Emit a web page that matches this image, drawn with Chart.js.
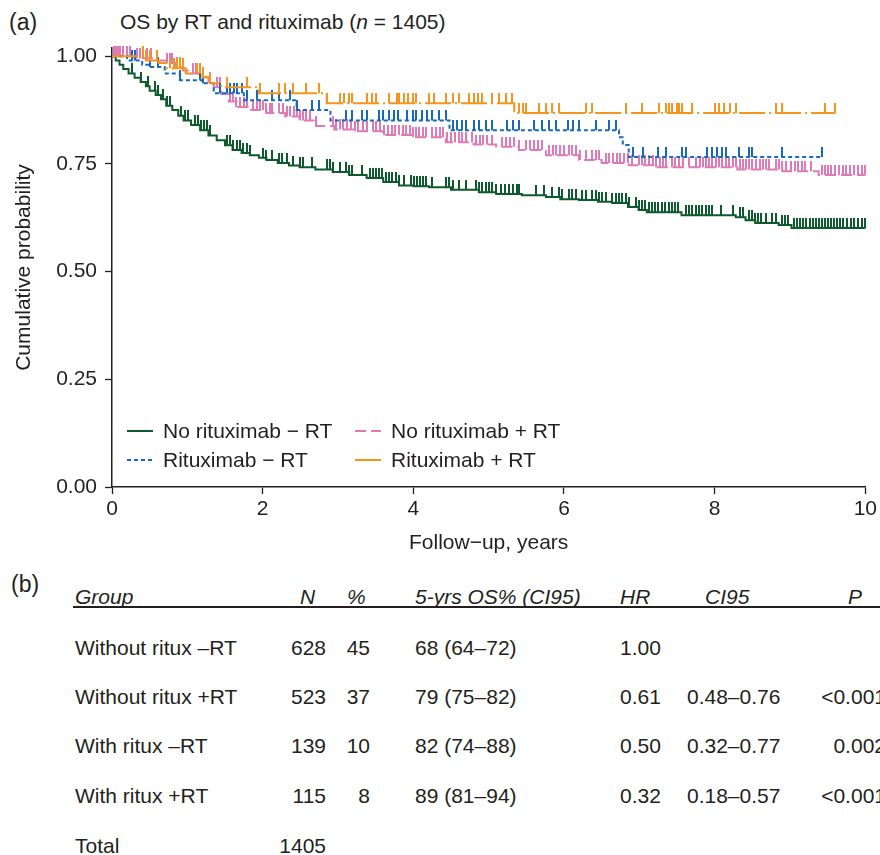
<!DOCTYPE html>
<html>
<head>
<meta charset="utf-8">
<script src="https://cdn.jsdelivr.net/npm/chart.js@4.4.1/dist/chart.umd.min.js"></script>
<style>
  body { margin: 0; width: 880px; height: 855px; overflow: hidden; background: #fff; position: relative;
         font-family: "Liberation Sans", Arial, sans-serif; color: #231f20; }
  #plot { position: absolute; left: 0; top: 0; width: 880px; height: 560px; }
  .txt { position: absolute; white-space: nowrap; font-size: 21px; line-height: 24px; }
  .head { font-style: italic; }
  #rule { position: absolute; left: 73px; top: 606px; width: 820px; height: 2px; background: #231f20; }
</style>
</head>
<body>
<div class="txt" style="left:9px; top:9px; font-size:23px; line-height:26px;">(a)</div>
<div class="txt" style="left:120px; top:10px;">OS by RT and rituximab (<i>n</i> = 1405)</div>
<div id="plot"><canvas id="km" width="880" height="560"></canvas></div>
<div class="txt" style="left:11px; top:571px; font-size:23px; line-height:26px;">(b)</div>
<div id="rule"></div>
<div id="table"></div>

<script>
// Kaplan-Meier curves: step times (years) and survival
const noRituxNoRtTime = [0, 0.05, 0.1, 0.15, 0.22, 0.3, 0.38, 0.45, 0.5, 0.58, 0.65, 0.72, 0.8, 0.88, 0.95,
  1.05, 1.17, 1.28, 1.39, 1.5, 1.6, 1.72, 1.83, 1.95, 2.05, 2.2, 2.35, 2.49, 2.7, 2.93, 3.15, 3.38, 3.6, 3.81,
  4.0, 4.21, 4.5, 4.87, 5.1, 5.44, 5.76, 5.95, 6.2, 6.45, 6.64, 6.85, 6.99, 7.1, 7.56, 8.28, 8.41, 8.54, 8.85, 9.02, 10.0];
const noRituxNoRtSurv = [1, 0.99, 0.98, 0.97, 0.96, 0.95, 0.94, 0.93, 0.92, 0.91, 0.90, 0.885, 0.875, 0.862, 0.851,
  0.84, 0.828, 0.816, 0.805, 0.793, 0.782, 0.775, 0.77, 0.764, 0.759, 0.752, 0.746, 0.742, 0.737, 0.731, 0.724, 0.717, 0.708, 0.70,
  0.698, 0.696, 0.69, 0.684, 0.68, 0.677, 0.673, 0.668, 0.666, 0.662, 0.659, 0.65, 0.643, 0.638, 0.631, 0.626, 0.619, 0.613, 0.608, 0.601, 0.601];
const noRituxNoRtCensor = [0.26, 0.39, 0.48, 0.57, 0.61, 0.68, 0.73, 0.77, 0.92, 0.97, 1.01, 1.10, 1.14, 1.18, 1.22, 1.26, 1.30,
  1.52, 1.56, 1.60, 1.66, 1.70, 1.74, 1.79, 1.83, 2.0, 2.05, 2.13, 2.22, 2.26, 2.32, 2.40, 2.49, 2.53, 2.66, 2.85, 2.89, 2.93,
  3.02, 3.11, 3.15, 3.19, 3.32, 3.42, 3.46, 3.51, 3.55, 3.59, 3.64, 3.68, 3.72, 3.77, 3.81, 3.87, 3.97, 4.01, 4.05, 4.09, 4.13,
  4.17, 4.25, 4.44, 4.48, 4.52, 4.61, 4.70, 4.83, 4.87, 4.91, 4.97, 5.01, 5.05, 5.10, 5.17, 5.22, 5.27, 5.32, 5.38, 5.40, 5.63,
  5.74, 5.84, 5.93, 5.97, 6.07, 6.11, 6.16, 6.24, 6.29, 6.37, 6.42, 6.46, 6.50, 6.56, 6.64, 6.69, 6.73, 6.77, 6.82, 6.86, 6.95,
  6.99, 7.04, 7.08, 7.13, 7.17, 7.21, 7.25, 7.30, 7.34, 7.39, 7.43, 7.48, 7.52, 7.62, 7.66, 7.70, 7.75, 7.79, 7.83, 7.88, 7.92,
  7.97, 8.08, 8.25, 8.34, 8.38, 8.45, 8.49, 8.54, 8.58, 8.62, 8.68, 8.76, 8.81, 8.89, 8.94, 8.98, 9.05, 9.09, 9.13, 9.17, 9.21,
  9.26, 9.30, 9.34, 9.38, 9.42, 9.46, 9.51, 9.55, 9.59, 9.63, 9.67, 9.71, 9.76, 9.81, 9.85, 9.90, 9.95, 10.0];

const noRituxRtTime = [0, 0.3, 0.6, 0.73, 0.85, 0.94, 1.05, 1.17, 1.28, 1.35, 1.45, 1.55, 1.65, 1.8, 2.05, 2.3, 2.49, 2.71,
  2.95, 3.2, 3.59, 4.0, 4.43, 4.8, 5.1, 5.4, 5.76, 6.2, 6.5, 6.86, 7.2, 8.3, 8.9, 9.38, 10.0];
const noRituxRtSurv = [1, 0.995, 0.99, 0.984, 0.975, 0.967, 0.96, 0.951, 0.94, 0.928, 0.912, 0.895, 0.882, 0.875, 0.868, 0.86,
  0.851, 0.838, 0.83, 0.826, 0.817, 0.812, 0.80, 0.795, 0.79, 0.782, 0.77, 0.759, 0.752, 0.747, 0.742, 0.737, 0.733, 0.724, 0.724];
const noRituxRtCensor = [0.02, 0.05, 0.08, 0.11, 0.15, 0.2, 0.24, 0.33, 0.37, 0.41, 0.46, 0.52, 0.73, 0.77, 0.8, 0.86, 0.9, 1.07,
  1.12, 1.17, 1.3, 1.4, 1.44, 1.52, 1.56, 1.6, 1.65, 1.7, 1.75, 1.79, 1.87, 1.92, 1.96, 2.0, 2.05, 2.1, 2.13, 2.22, 2.27, 2.32,
  2.36, 2.41, 2.45, 2.49, 2.53, 2.58, 2.63, 2.71, 2.93, 2.98, 3.02, 3.07, 3.12, 3.17, 3.22, 3.27, 3.33, 3.38, 3.46, 3.51, 3.56,
  3.61, 3.66, 3.72, 3.76, 3.81, 3.86, 3.9, 3.95, 4.0, 4.04, 4.08, 4.13, 4.17, 4.25, 4.3, 4.35, 4.4, 4.45, 4.5, 4.55, 4.6, 4.65,
  4.7, 4.78, 4.83, 4.88, 4.93, 4.98, 5.05, 5.18, 5.23, 5.28, 5.33, 5.4, 5.5, 5.55, 5.6, 5.65, 5.71, 5.8, 5.85, 5.9, 5.95, 6.0,
  6.07, 6.11, 6.16, 6.21, 6.29, 6.37, 6.42, 6.46, 6.56, 6.6, 6.65, 6.7, 6.75, 6.8, 6.85, 6.9, 6.99, 7.03, 7.08, 7.13, 7.18, 7.22,
  7.27, 7.31, 7.36, 7.43, 7.48, 7.53, 7.58, 7.66, 7.75, 7.8, 7.84, 7.88, 7.93, 7.97, 8.02, 8.06, 8.1, 8.15, 8.19, 8.24, 8.28,
  8.33, 8.37, 8.42, 8.46, 8.5, 8.55, 8.6, 8.64, 8.68, 8.72, 8.81, 8.86, 8.9, 8.95, 9.02, 9.07, 9.11, 9.16, 9.2, 9.28, 9.42,
  9.46, 9.5, 9.55, 9.6, 9.65, 9.7, 9.75, 9.8, 9.85, 9.9, 9.95, 10.0];

const rituxNoRtTime = [0, 0.2, 0.4, 0.5, 0.7, 0.9, 1.2, 1.35, 1.75, 2.45, 2.9, 4.48, 6.73, 6.78, 6.86, 9.42];
const rituxNoRtSurv = [1, 0.99, 0.98, 0.975, 0.96, 0.944, 0.937, 0.914, 0.898, 0.875, 0.851, 0.828, 0.812, 0.794, 0.766, 0.766];
const rituxNoRtCensor = [0.26, 0.3, 0.5, 0.61, 0.9, 1.17, 1.21, 1.43, 1.52, 1.56, 1.62, 1.66, 1.72, 1.79, 1.92, 2.13, 2.22,
  2.36, 2.45, 2.66, 2.75, 3.11, 3.19, 3.32, 3.38, 3.55, 3.6, 3.68, 3.75, 3.8, 3.92, 3.99, 4.04, 4.12, 4.18, 4.25, 4.34, 4.44,
  4.52, 4.58, 4.65, 4.7, 4.8, 4.87, 4.97, 5.05, 5.25, 5.32, 5.4, 5.6, 5.71, 5.8, 5.89, 6.05, 6.12, 6.2, 6.42, 6.6, 6.69, 6.92,
  7.05, 7.25, 7.35, 7.56, 7.62, 7.9, 7.97, 8.03, 8.1, 8.15, 8.32, 8.45, 8.49, 8.89, 9.42];

const rituxRtTime = [0, 0.45, 0.62, 0.72, 0.98, 1.2, 1.3, 1.45, 1.95, 2.85, 5.34, 9.6];
const rituxRtSurv = [1, 0.99, 0.984, 0.972, 0.96, 0.951, 0.937, 0.928, 0.914, 0.891, 0.868, 0.868];
const rituxRtCensor = [0.41, 0.45, 0.5, 0.6, 0.77, 0.82, 0.86, 0.9, 0.94, 1.13, 1.17, 1.21, 1.3, 1.52, 1.79, 1.96, 2.22, 2.3,
  2.4, 2.58, 2.75, 2.85, 3.02, 3.08, 3.14, 3.19, 3.38, 3.45, 3.51, 3.68, 3.78, 3.81, 3.87, 3.93, 3.99, 4.04, 4.21, 4.27, 4.44,
  4.52, 4.61, 4.74, 4.8, 4.86, 4.91, 5.05, 5.14, 5.23, 5.31, 5.4, 5.45, 5.5, 5.67, 5.76, 5.84, 5.93, 6.29, 6.37, 6.82, 7.03,
  7.26, 7.35, 7.39, 7.43, 7.5, 7.53, 7.56, 7.7, 8.01, 8.06, 8.12, 8.2, 8.28, 8.81, 8.89, 9.47, 9.6];

// Axis ticks
const xTicks = [0, 2, 4, 6, 8, 10];
const yTicks = [0, 0.25, 0.5, 0.75, 1];

// Legend / series
const groupLabels = ['No rituximab \u2212 RT', 'No rituximab + RT', 'Rituximab \u2212 RT', 'Rituximab + RT'];
const groupColors = ['#0d5a2c', '#e07ab6', '#1769bb', '#f7941d'];
const groupDashes = [[], [11, 5], [4, 3], [26, 4, 2, 4]];

// Table (b)
const tableHeader = ['Group', 'N', '%', '5-yrs OS% (CI95)', 'HR', 'CI95', 'P'];
const tableGroup = ['Without ritux \u2013RT', 'Without ritux +RT', 'With ritux \u2013RT', 'With ritux +RT', 'Total'];
const tableN = ['628', '523', '139', '115', '1405'];
const tablePct = ['45', '37', '10', '8', ''];
const tableOS = ['68 (64\u201372)', '79 (75\u201382)', '82 (74\u201388)', '89 (81\u201394)', ''];
const tableHR = ['1.00', '0.61', '0.50', '0.32', ''];
const tableCI = ['', '0.48\u20130.76', '0.32\u20130.77', '0.18\u20130.57', ''];
const tableP = ['', '<0.001', '0.002', '<0.001', ''];

// survival value of a step curve at time t
function survAt(times, surv, t) {
  let s = surv[0];
  for (let i = 0; i < times.length; i++) {
    if (times[i] <= t) s = surv[i];
  }
  return s;
}

// censor mark: vertical tick standing on the curve
function tickMark(color) {
  const c = document.createElement('canvas');
  c.width = 2; c.height = 20;
  const g = c.getContext('2d');
  g.fillStyle = color;
  g.fillRect(0, 0, 2, 10);
  return c;
}

const curves = [
  [noRituxNoRtTime, noRituxNoRtSurv, noRituxNoRtCensor],
  [noRituxRtTime, noRituxRtSurv, noRituxRtCensor],
  [rituxNoRtTime, rituxNoRtSurv, rituxNoRtCensor],
  [rituxRtTime, rituxRtSurv, rituxRtCensor]
];

const datasets = [];
curves.forEach(([times, surv, cens], i) => {
  datasets.push({
    type: 'line',
    label: groupLabels[i],
    data: times.map((t, k) => ({ x: t, y: surv[k] })),
    borderColor: groupColors[i],
    borderWidth: 2,
    borderDash: groupDashes[i],
    stepped: true,
    pointRadius: 0,
    fill: false,
    clip: false,
    order: 10 - i * 2
  });
  datasets.push({
    type: 'scatter',
    label: '',
    data: cens.map(t => ({ x: t, y: survAt(times, surv, t) })),
    pointStyle: tickMark(groupColors[i]),
    pointRadius: 3,
    clip: false,
    order: 9 - i * 2
  });
});

// legend drawn inside the plot, two columns
const kmLegend = {
  id: 'kmLegend',
  afterDraw(chart) {
    const { ctx, chartArea } = chart;
    const colX = [chartArea.left + 15, chartArea.left + 243];
    const rowY = [chartArea.bottom - 56, chartArea.bottom - 27];
    ctx.save();
    ctx.font = '21px "Liberation Sans", Arial, sans-serif';
    ctx.textBaseline = 'middle';
    ctx.fillStyle = '#231f20';
    groupLabels.forEach((lab, i) => {
      const px = colX[i % 2];
      const py = rowY[i < 2 ? 0 : 1];
      ctx.beginPath();
      ctx.setLineDash(groupDashes[i]);
      ctx.strokeStyle = groupColors[i];
      ctx.lineWidth = 2;
      ctx.moveTo(px, py);
      ctx.lineTo(px + 26, py);
      ctx.stroke();
      ctx.setLineDash([]);
      ctx.fillText(lab, px + 36, py + 1);
    });
    ctx.restore();
  }
};

Chart.defaults.font.family = '"Liberation Sans", Arial, sans-serif';
Chart.defaults.font.size = 21;
Chart.defaults.color = '#231f20';

new Chart(document.getElementById('km'), {
  type: 'line',
  data: { datasets },
  options: {
    responsive: false,
    animation: false,
    layout: { padding: { left: 0, right: 13, top: 48, bottom: 0 } },
    plugins: { legend: { display: false }, tooltip: { enabled: false } },
    scales: {
      x: {
        type: 'linear', min: 0, max: 10,
        afterBuildTicks: s => { s.ticks = xTicks.map(v => ({ value: v })); },
        afterFit: s => { s.height = 73; },
        grid: { drawOnChartArea: false, drawTicks: true, tickLength: 7, color: '#231f20', tickWidth: 1.3 },
        border: { display: true, color: '#231f20', width: 1.5 },
        ticks: { padding: 3, color: '#231f20', maxRotation: 0 },
        title: { display: true, text: 'Follow\u2212up, years', padding: { top: 0, bottom: 4 }, color: '#231f20' }
      },
      y: {
        type: 'linear', min: 0, max: 1.019,
        afterBuildTicks: s => { s.ticks = yTicks.map(v => ({ value: v })); },
        afterFit: s => { s.width = 112; },
        grid: { drawOnChartArea: false, drawTicks: true, tickLength: 7, color: '#231f20', tickWidth: 1.3 },
        border: { display: true, color: '#231f20', width: 1.5 },
        ticks: { padding: 8, color: '#231f20', callback: v => v.toFixed(2) },
        title: { display: true, text: 'Cumulative probability', padding: { top: 12, bottom: 0 }, color: '#231f20' }
      }
    }
  },
  plugins: [kmLegend]
});

// table (b)
const table = document.getElementById('table');
function put(text, x, cy, cls, alignRight) {
  const d = document.createElement('div');
  d.className = 'txt ' + (cls || '');
  d.textContent = text;
  d.style.top = (cy - 12) + 'px';
  if (alignRight) { d.style.right = (880 - x) + 'px'; } else { d.style.left = x + 'px'; }
  table.appendChild(d);
}
const headX = [75, 300, 347, 415, 620, 705, 848];
tableHeader.forEach((h, i) => put(h, headX[i], 597, 'head', false));
const rowY = [648, 697, 746, 796, 846];
rowY.forEach((y, r) => {
  put(tableGroup[r], 75, y);
  put(tableN[r], 326, y, '', true);
  put(tablePct[r], 370, y, '', true);
  put(tableOS[r], 415, y);
  put(tableHR[r], 620, y);
  put(tableCI[r], 687, y);
  put(tableP[r], 886, y, '', true);
});
</script>
</body>
</html>
